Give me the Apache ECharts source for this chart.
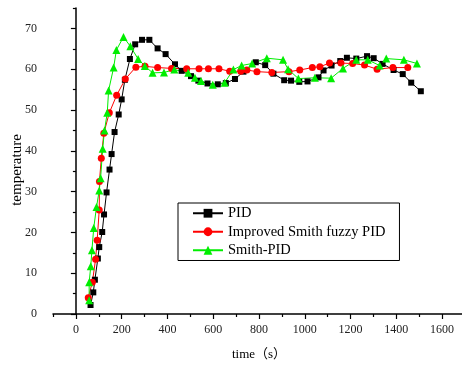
<!DOCTYPE html>
<html>
<head>
<meta charset="utf-8">
<script src="https://cdn.jsdelivr.net/npm/echarts@6/dist/echarts.min.js"></script>
<style>
  html, body { margin: 0; padding: 0; background: #fff; }
  #chart { width: 462px; height: 365px; }
</style>
</head>
<body>
<div id="chart"></div>
<script>
// [time (s), temperature]
const pidData = [
  [64, 2.2], [76, 5.3], [83, 8.4], [96, 13.6], [102, 16.4], [115, 20.1], [123, 24.4],
  [134, 29.8], [147, 35.4], [156, 39.2], [169, 44.6], [187, 48.9], [200, 52.6],
  [214, 57.4], [236, 62.5], [259, 66.1], [289, 67.2], [321, 67.2], [357, 65.1],
  [392, 63.7], [433, 61.2], [462, 59.6], [503, 58.3], [535, 57.2], [575, 56.5],
  [620, 56.3], [655, 56.6], [695, 57.6], [732, 59.4], [786, 61.7], [827, 61.0],
  [863, 58.9], [910, 57.3], [940, 57.2], [976, 56.9], [1012, 57.0], [1060, 58.0],
  [1082, 59.7], [1117, 60.9], [1155, 62.0], [1184, 62.8], [1225, 62.6], [1272, 63.2],
  [1301, 62.7], [1340, 61.3], [1388, 59.8], [1428, 58.8], [1465, 56.7], [1507, 54.6]
];
const fuzzyData = [
  [54, 4.0], [72, 7.8], [86, 13.4], [93, 18.1], [102, 25.5], [103, 32.5], [111, 38.2],
  [122, 44.3], [146, 49.3], [178, 53.6], [216, 57.6], [262, 60.5], [302, 60.7],
  [357, 60.4], [418, 60.2], [484, 60.1], [538, 60.1], [579, 60.1], [625, 60.1],
  [672, 59.5], [720, 59.5], [747, 59.8], [791, 59.4], [856, 59.2], [931, 59.4],
  [978, 59.8], [1033, 60.4], [1066, 60.6], [1108, 61.5], [1158, 61.5], [1209, 61.4],
  [1261, 61.0], [1316, 60.0], [1385, 60.4], [1450, 60.4]
];
const smithData = [
  [58, 3.4], [58, 7.8], [65, 11.7], [70, 15.6], [78, 21.1], [90, 26.2], [102, 30.3],
  [108, 33.3], [117, 40.5], [125, 45.0], [137, 49.3], [143, 54.8], [165, 60.4],
  [177, 64.7], [208, 67.9], [238, 65.6], [272, 62.5], [301, 60.8], [335, 59.1],
  [385, 59.2], [430, 59.9], [491, 59.1], [520, 57.9], [547, 57.1], [598, 56.2],
  [650, 56.7], [688, 59.9], [724, 60.9], [770, 61.4], [834, 62.7], [905, 62.3],
  [927, 60.0], [972, 57.7], [1044, 57.9], [1115, 57.8], [1167, 60.2], [1225, 62.3],
  [1275, 62.3], [1327, 60.9], [1356, 62.6], [1433, 62.3], [1490, 61.4]
];

const seriesNames = ["PID", "Improved Smith fuzzy PID", "Smith-PID"];
const xMajor = [0, 200, 400, 600, 800, 1000, 1200, 1400, 1600];
const xMinor = [-100, 100, 300, 500, 700, 900, 1100, 1300, 1500, 1700];
const yMajor = [0, 10, 20, 30, 40, 50, 60, 70];
const yMinor = [5, 15, 25, 35, 45, 55, 65, 75];

const serif = '"Liberation Serif", "Times New Roman", "Noto Sans CJK SC", serif';
const chart = echarts.init(document.getElementById("chart"));

chart.setOption({
  animation: false,
  backgroundColor: "#fff",
  grid: { left: 53, right: -3, top: 8, bottom: 51, outerBoundsMode: "none", containLabel: false },
  legend: {
    orient: "vertical",
    left: 178,
    top: 203,
    data: seriesNames,
    itemWidth: 30,
    itemHeight: 11,
    itemGap: 4,
    padding: [3, 14, 3, 14],
    borderColor: "#000",
    borderWidth: 1,
    textStyle: { fontFamily: serif, fontSize: 14.5, color: "#000" }
  },
  xAxis: [
    {
      type: "value",
      min: -100,
      max: 1700,
      name: "time（s）",
      nameLocation: "middle",
      nameGap: 34,
      nameMoveOverlap: false,
      nameTextStyle: { fontFamily: serif, fontSize: 13, color: "#000" },
      axisLine: { lineStyle: { color: "#000", width: 1.5 } },
      axisTick: { customValues: xMajor, length: 5, lineStyle: { color: "#000", width: 1.2 } },
      axisLabel: {
        customValues: xMajor,
        margin: 10,
        fontFamily: serif,
        fontSize: 12,
        color: "#222",
        formatter: (v) => String(v)
      },
      splitLine: { show: false }
    },
    {
      type: "value",
      min: -100,
      max: 1700,
      position: "bottom",
      axisLine: { show: false },
      axisTick: { customValues: xMinor, length: 3, lineStyle: { color: "#000", width: 1.2 } },
      axisLabel: { show: false },
      splitLine: { show: false }
    }
  ],
  yAxis: [
    {
      type: "value",
      min: 0,
      max: 75,
      name: "temperature",
      nameLocation: "middle",
      nameGap: 28,
      nameMoveOverlap: false,
      nameTextStyle: { fontFamily: serif, fontSize: 15, color: "#000", padding: [0, 18, 0, 0] },
      axisLine: { show: true, lineStyle: { color: "#000", width: 1.5 } },
      axisTick: { show: true, customValues: yMajor, length: 5, lineStyle: { color: "#000", width: 1.2 } },
      axisLabel: { customValues: yMajor, margin: 16, fontFamily: serif, fontSize: 12, color: "#222" },
      splitLine: { show: false }
    },
    {
      type: "value",
      min: 0,
      max: 75,
      position: "left",
      axisLine: { show: false },
      axisTick: { show: true, customValues: yMinor, length: 3, lineStyle: { color: "#000", width: 1.2 } },
      axisLabel: { show: false },
      splitLine: { show: false }
    }
  ],
  series: [
    {
      name: seriesNames[0],
      type: "line",
      data: pidData,
      symbol: "rect",
      symbolSize: 6,
      itemStyle: { color: "#000" },
      lineStyle: { color: "#000", width: 1 }
    },
    {
      name: seriesNames[1],
      type: "line",
      data: fuzzyData,
      symbol: "circle",
      symbolSize: 7,
      itemStyle: { color: "#ff0000" },
      lineStyle: { color: "#ff0000", width: 1 }
    },
    {
      name: seriesNames[2],
      type: "line",
      data: smithData,
      symbol: "triangle",
      symbolSize: 8,
      itemStyle: { color: "#00ee00" },
      lineStyle: { color: "#00ee00", width: 1 }
    }
  ]
});
</script>
</body>
</html>
